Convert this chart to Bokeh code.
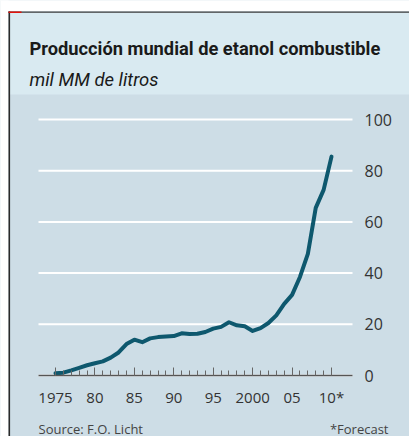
from bokeh.plotting import figure
from bokeh.models import FixedTicker, BoxAnnotation, Label, Range1d, LinearAxis
from bokeh.embed import file_html
from bokeh.resources import INLINE

# ---- data ----
years = list(range(1975, 2011))
production = [0.9, 1.1, 2.0, 3.0, 4.0, 4.8, 5.5, 7.0, 9.0, 12.3,
              14.0, 13.0, 14.5, 15.0, 15.2, 15.4, 16.5, 16.2, 16.3, 17.0,
              18.3, 19.0, 20.8, 19.6, 19.2, 17.4, 18.5, 20.5, 23.5, 28.0,
              31.5, 38.5, 47.5, 65.5, 72.5, 85.5]
x_major_ticks = [1975, 1980, 1985, 1990, 1995, 2000, 2005, 2010]
x_tick_labels = ["1975", "80", "85", "90", "95", "2000", "05", "10*"]
y_ticks = [0, 20, 40, 60, 80, 100]

title_text = "Producción mundial de etanol combustible"
subtitle_text = "mil MM de litros"
source_text = "Source: F.O. Licht"
note_text = "*Forecast"

# ---- style / layout ----
TITLE_BG = "#d9eaf1"
CHART_BG = "#cddde6"
LINE_COLOR = "#0e586e"
TEXT_FONT = "Open Sans"
TITLE_FONT = "Roboto"

W, H = 409, 436
# the plot frame covers the whole canvas; pixel <-> data mapping
PX_PER_YEAR = 7.886
PX_PER_UNIT = 2.56
X_ORIGIN_PX, Y_ORIGIN_PX = 55, 375   # where 1975 / 0 sit on the page
X0 = 1975 - X_ORIGIN_PX / PX_PER_YEAR
X1 = 1975 + (W - X_ORIGIN_PX) / PX_PER_YEAR
Y0 = -(H - Y_ORIGIN_PX) / PX_PER_UNIT
Y1 = Y_ORIGIN_PX / PX_PER_UNIT


def xd(px):
    return X0 + px / W * (X1 - X0)


def yd(py):
    return Y1 - py / H * (Y1 - Y0)


p = figure(width=W, height=H, output_backend="svg", toolbar_location=None,
           x_range=Range1d(X0, X1), y_range=Range1d(Y0, Y1),
           x_axis_type=None, y_axis_type=None,
           min_border=0)
p.border_fill_color = CHART_BG
p.background_fill_color = CHART_BG
p.outline_line_color = None
p.grid.visible = False


def pbox(l, r, t, b, color):
    p.add_layout(BoxAnnotation(left=xd(l), right=xd(r), top=yd(t), bottom=yd(b),
                               fill_color=color, fill_alpha=1.0, line_color=None,
                               level="image"))


pbox(0, W + 2, -2, 11, "#ffffff")
pbox(-2, 8, -2, H + 2, "#ffffff")
pbox(8, W + 2, 11, 94, TITLE_BG)
pbox(8, W + 2, 11, 12.2, "#3a3a3a")
pbox(8, 9.6, 11, H + 2, "#2a2a2a")
pbox(8, 21, 11, 12.6, "#e3120b")

GRID_L, GRID_R = xd(38), xd(352)

# horizontal grid lines at the y ticks
p.segment(x0=[GRID_L] * len(y_ticks), y0=y_ticks,
          x1=[GRID_R] * len(y_ticks), y1=y_ticks,
          line_color="white", line_width=2)

# y axis (labels to the right of the grid)
ya = LinearAxis(fixed_location=GRID_R, ticker=FixedTicker(ticks=y_ticks))
ya.axis_line_color = None
ya.major_tick_line_color = None
ya.minor_tick_line_color = None
ya.major_label_standoff = 6
ya.major_label_text_font = TEXT_FONT
ya.major_label_text_font_size = "16px"
ya.major_label_text_color = "#333333"
p.add_layout(ya, "right")

# x axis on the zero line
xa = LinearAxis(fixed_location=0, bounds=(GRID_L, GRID_R),
                ticker=FixedTicker(ticks=x_major_ticks, minor_ticks=years))
xa.major_label_overrides = {t: l for t, l in zip(x_major_ticks, x_tick_labels)}
xa.axis_line_color = "#555555"
xa.axis_line_width = 1.5
xa.major_tick_in = 8
xa.major_tick_out = 0
xa.minor_tick_in = 5
xa.minor_tick_out = 0
xa.major_tick_line_color = "#666666"
xa.minor_tick_line_color = "#666666"
xa.major_label_standoff = 11
xa.major_label_text_font = TEXT_FONT
xa.major_label_text_font_size = "15px"
xa.major_label_text_color = "#333333"
p.add_layout(xa, "below")

# data line
p.line(years, production, line_width=4, line_color=LINE_COLOR,
       line_join="round", line_cap="round")

# texts
p.add_layout(Label(x=xd(29), y=yd(48), text=title_text,
                   text_font=TITLE_FONT, text_font_style="bold",
                   text_font_size="18.3px", text_color="#1a1a1a",
                   text_baseline="alphabetic"))
p.add_layout(Label(x=xd(29), y=yd(79), text=subtitle_text,
                   text_font=TITLE_FONT, text_font_style="italic",
                   text_font_size="18.5px", text_color="#1a1a1a",
                   text_baseline="alphabetic"))
p.add_layout(Label(x=xd(38), y=yd(428), text=source_text,
                   text_font=TEXT_FONT, text_font_size="13px",
                   text_color="#444444", text_baseline="alphabetic"))
p.add_layout(Label(x=xd(388), y=yd(428), text=note_text,
                   text_font=TEXT_FONT, text_font_size="13px", text_align="right",
                   text_color="#444444", text_baseline="alphabetic"))

open("out.html", "w").write(file_html(p, INLINE))
